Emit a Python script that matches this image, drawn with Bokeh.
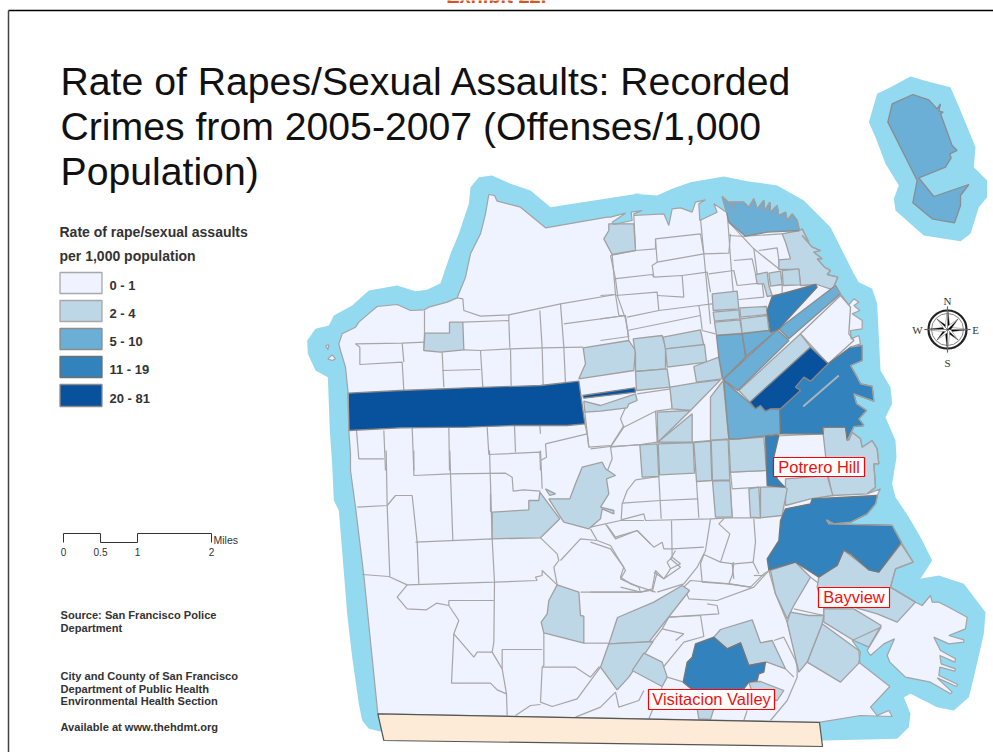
from bokeh.plotting import figure
from bokeh.models import Range1d
from bokeh.core.properties import value
from bokeh.embed import file_html
from bokeh.resources import INLINE
import math

# ---------- text ----------
CUT_HEADER = ["Exhibit 22F"]
TITLE_LINES = ["Rate of Rapes/Sexual Assaults: Recorded", "Crimes from 2005-2007 (Offenses/1,000", "Population)"]
LEGEND_TITLE = ["Rate of rape/sexual assaults", "per 1,000 population"]
CLASS_LABELS = ["0 - 1", "2 - 4", "5 - 10", "11 - 19", "20 - 81"]
CLASS_COLORS = ["#EFF3FF", "#BDD7E7", "#6BAED6", "#3182BD", "#08519C"]
CLASS_EDGES = ["#A8A8A8", "#A8A8A8", "#8C8C8C", "#707070", "#8C8C8C"]
SCALE_LABELS = ["0", "0.5", "1", "2"]
SCALE_MILES = [0, 0.5, 1, 2]
NOTES = ["Source: San Francisco Police", "Department", "City and County of San Francisco",
         "Department of Public Health", "Environmental Health Section", "Available at www.thehdmt.org"]
PLACES = ["Potrero Hill", "Bayview", "Visitacion Valley"]

# ---------- map sheets: vertices are digitised per sheet, each with its own origin, scale 1/3 ----------
S1, S2, S3, S4, S9, S11 = (300, 170), (600, 170), (300, 450), (620, 480), (860, 70), (590, 420)


def at(o, pts):
    return [(o[0] + a / 3, o[1] + b / 3) for a, b in pts]


HALO = (at(S3, [(240, 843), (205, 835), (185, 810), (175, 760), (155, 620), (140, 490), (128, 340), (115, 180), (100, 150)])
        + at(S1, [(95, 880), (88, 780), (82, 620), (45, 600), (22, 550), (20, 510), (45, 475), (85, 465), (100, 435), (155, 405),
                  (205, 360), (290, 345), (345, 362), (380, 358), (420, 338), (450, 250), (475, 190), (505, 100), (510, 50),
                  (535, 20), (575, 15), (630, 40), (690, 60), (750, 110), (1040, 65)])
        + at(S2, [(100, 70), (170, 75), (215, 55), (270, 35), (370, 18), (440, 32), (530, 45), (610, 90), (690, 170), (760, 310),
                  (775, 335), (815, 355), (830, 400), (840, 600), (870, 650), (875, 700), (855, 740), (885, 810), (888, 860),
                  (875, 940), (885, 980), (925, 1040)])
        + at(S4, [(900, 170), (935, 240), (900, 295), (955, 285), (1030, 310), (1095, 395), (1090, 460), (1060, 590), (1045, 650),
                  (1000, 690), (950, 680), (870, 640), (850, 650), (870, 700), (865, 740), (830, 775), (610, 780)]))
HALO_ISLAND = at(S9, [(25, 155), (50, 70), (90, 50), (150, 18), (210, 35), (270, 50), (300, 120), (345, 230), (340, 290), (380, 330),
                      (380, 380), (355, 410), (330, 490), (300, 512), (190, 495), (150, 460), (105, 420), (100, 385), (115, 345),
                      (75, 280), (45, 200)])

PIERS_N = [(378, 125), (365, 78), (408, 118), (385, 95), (430, 95), (445, 110), (460, 85), (470, 115), (490, 90), (493, 120),
           (508, 95), (510, 125), (530, 105), (535, 135), (555, 125), (560, 150), (575, 130), (590, 150), (597, 180)]
PIERS_NE = [(605, 175), (625, 215), (605, 195), (635, 230), (660, 240), (640, 245), (665, 265), (650, 265), (672, 290), (690, 300), (680, 312), (712, 320)]

COAST = (at(S3, [(232, 790), (190, 375), (165, 170), (150, 60)])
         + at(S1, [(150, 850), (145, 780), (143, 668), (135, 590), (120, 540), (115, 520), (125, 490), (165, 470), (175, 455),
                   (210, 425), (230, 408), (290, 402), (330, 420), (372, 418), (385, 410), (440, 395), (470, 382), (495, 320),
                   (510, 250), (540, 190), (555, 130), (565, 72), (582, 75), (590, 92), (660, 110), (735, 172), (920, 140)])
         + at(S2, [(30, 140), (75, 128), (35, 155), (40, 162), (95, 150), (92, 125), (125, 120), (100, 130), (100, 135), (190, 130),
                   (205, 165), (215, 115), (240, 112), (275, 125), (285, 95), (315, 88), (295, 100), (298, 150), (350, 125), (340, 100)])
         + at(S2, PIERS_N) + at(S2, PIERS_NE)
         + at(S2, [(700, 345), (718, 368), (745, 403), (760, 385), (775, 395),
                   (760, 405), (778, 420), (755, 430), (785, 450), (785, 475), (750, 480), (752, 505), (775, 495), (780, 520), (750, 530),
                   (785, 525), (785, 570), (750, 585), (770, 620), (780, 640), (815, 648), (820, 692), (760, 670), (768, 700), (798, 720),
                   (775, 745), (790, 765), (760, 768), (740, 810), (755, 785), (780, 805), (785, 830), (815, 810), (830, 835), (835, 880),
                   (820, 880), (825, 950), (800, 970), (840, 955), (830, 975)])
         + at(S4, [(770, 50), (765, 70), (740, 100), (690, 125), (640, 130), (618, 118), (625, 130), (815, 135), (842, 185), (878, 245),
                   (825, 265), (810, 320), (885, 365), (905, 375), (930, 345), (935, 365), (955, 365), (985, 380), (1040, 410), (1035, 445),
                   (985, 465), (1030, 478), (1030, 485), (985, 490), (940, 470), (960, 510), (1005, 535), (1003, 545), (958, 525), (962, 550),
                   (1005, 565), (1003, 572), (958, 560), (955, 585), (1012, 612), (1008, 618), (950, 592), (995, 635), (990, 640), (930, 605),
                   (855, 590), (808, 545), (800, 525), (822, 475), (790, 490), (750, 525), (740, 510), (782, 440),
                   (695, 480), (720, 515), (715, 545), (808, 618), (750, 680), (770, 705), (805, 690), (815, 708), (720, 705), (600, 725)]))
ROCKS = [at(S1, [(75, 525), (85, 523), (82, 538)]), at(S1, [(82, 565), (95, 553), (105, 565), (95, 570)])]

TRACTS_20_81 = [
    at(S1, [(143, 668), (300, 660), (500, 652), (720, 645), (835, 632), (853, 760), (800, 765), (640, 765), (500, 770), (300, 772), (145, 780)]),
    at(S1, [(847, 675), (1003, 652), (1005, 665), (850, 683)]),
    at(S2, [(630, 530), (683, 580), (630, 632), (610, 620), (585, 650), (600, 660), (540, 715), (510, 715), (495, 722), (480, 705), (465, 715), (448, 695)]),
]
TRACTS_11_19 = [
    at(S2, [(515, 378), (645, 342), (650, 350), (535, 475), (510, 485), (500, 420)]),
    at(S2, [(683, 580), (750, 530), (785, 525), (785, 570), (750, 585), (770, 620), (780, 640), (815, 648), (820, 692), (760, 670), (768, 700), (798, 720),
            (775, 745), (790, 765), (760, 768), (740, 810), (735, 770), (665, 770), (668, 790), (540, 790), (538, 718), (600, 660), (585, 650), (610, 620), (630, 632)]),
    at(S2, [(495, 798), (535, 795), (520, 860), (530, 925), (553, 950), (500, 945)]),
    at(S4, [(495, 85), (570, 70), (575, 55), (770, 45), (765, 70), (740, 100), (690, 125), (640, 130), (618, 118), (625, 130), (815, 135), (842, 185), (775, 275),
            (745, 268), (690, 220), (670, 208), (650, 255), (595, 290), (525, 245), (445, 268), (440, 235), (475, 180), (480, 120)]),
    at(S4, [(225, 490), (280, 470), (320, 505), (360, 487), (385, 555), (435, 545), (430, 575), (415, 580), (410, 600), (385, 605), (370, 625), (330, 640), (230, 640), (188, 605), (200, 545), (215, 530)]),
]
TRACTS_5_10 = [
    at(S2, PIERS_N + [(500, 185), (435, 197), (385, 155)]),
    at(S2, [(705, 345), (720, 370), (565, 505), (535, 475)]),
    at(S2, [(530, 478), (565, 510), (412, 660), (368, 627)]),
    at(S2, [(348, 495), (425, 490), (435, 560), (368, 627), (355, 560)]),
    at(S2, [(425, 490), (505, 480), (530, 478), (437, 558)]),
    at(S2, [(370, 630), (445, 695), (465, 715), (480, 705), (495, 722), (510, 715), (538, 718), (540, 790), (415, 805), (385, 805)]),
    at(S9, [(82, 155), (95, 100), (157, 72), (205, 88), (230, 115), (240, 100), (235, 122), (248, 125), (240, 130), (275, 225), (290, 240), (268, 250), (272, 262), (255, 290), (175, 322),
            (220, 378), (325, 342), (300, 375), (300, 405), (282, 457), (215, 445), (157, 397), (170, 330)]),
]
TRACTS_2_4 = [
    at(S1, [(925, 160), (1000, 160), (1005, 240), (935, 252), (910, 205), (925, 180)]),
    at(S1, [(373, 488), (447, 488), (447, 455), (487, 455), (490, 538), (420, 545), (370, 540)]),
    at(S1, [(848, 532), (985, 510), (1005, 540), (1000, 600), (835, 625), (855, 580)]),
    at(S2, [(98, 505), (185, 495), (195, 530), (195, 595), (105, 603), (105, 550)]),
    at(S2, [(188, 500), (300, 478), (310, 525), (195, 535)]),
    at(S2, [(195, 535), (312, 522), (318, 575), (200, 590)]),
    at(S2, [(105, 603), (200, 595), (208, 650), (108, 660)]),
    at(S2, [(280, 588), (355, 560), (365, 625), (288, 635)]),
    at(S2, [(208, 650), (285, 637), (360, 628), (270, 720), (215, 715)]),
    at(S2, [(170, 725), (270, 720), (172, 815)]),
    at(S2, [(172, 815), (275, 730), (275, 815)]),
    at(S2, [(330, 680), (368, 630), (385, 805), (330, 810)]),
    at(S2, [(0, 705), (105, 670), (110, 690), (85, 700), (80, 712), (0, 722), (-47, 725), (-50, 692)]),
    at(S2, [(335, 370), (410, 362), (415, 415), (338, 420)]),
    at(S2, [(338, 425), (415, 418), (418, 445), (342, 452)]),
    at(S2, [(342, 455), (418, 448), (425, 488), (348, 495)]),
    at(S2, [(418, 412), (498, 408), (500, 432), (420, 440)]),
    at(S2, [(420, 445), (500, 435), (505, 480), (425, 488)]),
    at(S2, [(545, 190), (597, 180)] + PIERS_NE + [(697, 358), (650, 342), (600, 345), (595, 297), (535, 297), (535, 268), (570, 265), (555, 215)]),
    at(S2, [(465, 312), (500, 305), (505, 345), (515, 375), (500, 378), (490, 340), (470, 340)]),
    at(S2, [(505, 308), (540, 302), (545, 342), (510, 347)]),
    at(S2, [(545, 300), (595, 295), (600, 343), (548, 345)]),
    at(S2, [(600, 490), (630, 530), (448, 695), (415, 660)]),
    at(S2, [(670, 770), (735, 770), (745, 810), (755, 785), (780, 805), (785, 830), (815, 810), (830, 835), (835, 880), (820, 880), (825, 950), (800, 970), (695, 975), (680, 900), (668, 790)]),
    at(S2, [(555, 925), (680, 915), (697, 975), (630, 985), (555, 1005)]),
    at(S11, [(148, 73), (200, 70), (205, 168), (155, 170)]),
    at(S11, [(203, 70), (308, 66), (312, 158), (207, 163)]),
    at(S11, [(310, 66), (360, 62), (364, 180), (318, 183)]),
    at(S11, [(362, 60), (413, 57), (418, 178), (366, 180)]),
    at(S11, [(415, 57), (520, 50), (528, 150), (420, 155)]),
    at(S11, [(366, 182), (418, 180), (425, 290), (375, 290)]),
    at(S11, [(475, 205), (505, 200), (510, 292), (480, 290)]),
    at(S11, [(510, 200), (580, 198), (590, 205), (575, 285), (510, 292)]),
    at(S4, [(450, 270), (525, 245), (570, 290), (520, 375), (500, 415), (465, 340)]),
    at(S4, [(595, 290), (625, 250), (650, 255), (670, 210), (690, 225), (745, 268), (775, 275), (842, 190), (878, 245), (825, 265), (810, 320), (885, 365), (830, 425), (770, 400), (700, 380), (610, 385), (590, 320)]),
    at(S4, [(610, 385), (700, 385), (782, 435), (745, 500), (700, 480), (610, 425)]),
    at(S4, [(605, 430), (715, 510), (718, 545), (660, 605), (560, 545)]),
    at(S4, [(510, 395), (565, 405), (610, 405), (605, 430), (560, 545), (535, 575), (500, 425)]),
    at(S4, [(-35, 490), (-9, 411), (100, 365), (185, 315), (207, 330), (85, 485)]),
    at(S3, [(900, 650), (925, 580), (1058, 573), (985, 680), (950, 718)]),
    at(S4, [(70, 518), (125, 545), (140, 590), (125, 618), (35, 570)]),
    at(S4, [(300, 447), (395, 418), (420, 487), (455, 480), (495, 565), (440, 545), (385, 555), (360, 487), (320, 505), (280, 470)]),
    at(S4, [(385, 605), (420, 603), (490, 630), (470, 660), (400, 650)]),
    at(S4, [(230, 685), (280, 685), (270, 717), (235, 715)]),
    at(S3, [(722, 515), (740, 490), (745, 450), (770, 403), (835, 425), (840, 495), (850, 497), (850, 578), (730, 547)]),
    at(S3, [(575, 185), (685, 178), (685, 150), (715, 150), (718, 125), (778, 205), (720, 262), (575, 265)]),
    at(S3, [(745, 145), (808, 145), (825, 100), (845, 50), (905, 35), (915, 55), (945, 75), (918, 85), (925, 130), (900, 170), (940, 180), (940, 190), (905, 175), (900, 205), (865, 235), (790, 215), (780, 200)]),
    at(S3, [(735, 115), (765, 130), (748, 135)]),
]
TRACTS_0_1 = [
    at(S2, [(600, 490), (720, 375), (750, 410), (745, 490), (760, 510), (683, 580)]),
]
PIER_48 = at(S2, [(608, 708), (715, 615)])

LINES_S1 = [
    [(372, 420), (372, 485), (370, 540)],
    [(470, 382), (487, 385), (490, 420), (540, 437), (625, 433), (780, 400), (945, 372)],
    [(935, 252), (945, 372), (955, 435), (975, 435), (985, 510)],
    [(487, 455), (625, 450), (628, 532)], [(490, 538), (540, 540), (630, 535), (725, 532), (848, 530)],
    [(625, 433), (625, 450)], [(718, 420), (725, 532), (728, 645)], [(780, 400), (790, 530), (795, 640)],
    [(790, 460), (975, 435)], [(165, 520), (305, 518), (372, 515)], [(165, 520), (178, 530), (178, 582), (305, 575), (310, 660)],
    [(305, 518), (310, 575)], [(425, 545), (430, 650)], [(425, 600), (540, 597)], [(540, 540), (547, 650)], [(630, 535), (632, 650)],
    [(168, 780), (175, 865), (250, 865)], [(250, 780), (255, 900)], [(335, 772), (340, 900)], [(445, 770), (447, 900)],
    [(560, 770), (565, 852), (718, 845), (720, 900)], [(642, 765), (645, 845)], [(718, 765), (720, 790)],
    [(735, 820), (860, 790), (853, 760)], [(735, 820), (738, 860), (720, 870)], [(860, 790), (865, 830), (930, 825)],
    [(853, 725), (865, 830)],
]
LINES_S2 = [
    [(100, 135), (105, 240)], [(30, 255), (105, 240), (165, 235), (165, 205), (300, 190), (310, 250), (320, 355), (330, 460)],
    [(165, 205), (170, 275), (155, 285), (160, 320), (245, 315), (250, 380), (170, 375)],
    [(300, 145), (310, 250)], [(170, 275), (310, 250), (385, 248), (390, 190)],
    [(380, 125), (395, 330), (405, 430)], [(40, 325), (155, 312), (160, 320)],
    [(45, 375), (170, 365), (175, 420), (80, 440)], [(30, 255), (45, 325), (52, 380), (75, 445), (85, 500)],
    [(0, 375), (45, 372)], [(0, 445), (75, 435)], [(0, 510), (85, 498)], [(80, 480), (300, 435), (305, 478)],
    [(245, 315), (320, 305), (330, 365)], [(325, 310), (400, 300), (410, 345)],
    [(385, 195), (435, 198)], [(385, 155), (460, 235), (470, 310)], [(400, 270), (455, 265), (465, 310)],
    [(410, 345), (485, 337), (490, 380), (415, 387)], [(295, 405), (335, 400)], [(305, 480), (345, 490)], [(175, 420), (295, 405), (300, 435)],
    [(510, 345), (545, 342), (545, 370), (515, 375)], [(475, 240), (530, 232), (535, 268)], [(460, 235), (535, 295)],
    [(435, 197), (545, 190)], [(110, 670), (210, 655), (215, 715), (165, 722), (170, 815), (275, 815), (385, 805), (490, 798), (670, 790)],
    [(30, 830), (120, 822), (170, 815)], [(30, 830), (70, 770), (60, 745), (80, 700)], [(70, 770), (165, 722)],
    [(390, 905), (495, 900)], [(390, 905), (390, 820)],
]
LINES_S11 = [
    [(0, 85), (60, 78), (148, 73)], [(60, 78), (65, 115), (45, 165)], [(100, 15), (60, 78)],
    [(135, 178), (205, 168), (212, 295)], [(318, 183), (325, 292)], [(135, 178), (110, 210), (95, 250), (92, 298)],
    [(95, 248), (210, 240), (320, 235)], [(92, 298), (160, 280), (165, 300), (360, 295), (420, 292), (510, 292)],
    [(420, 205), (425, 290)], [(420, 155), (425, 205), (510, 200)], [(0, 320), (90, 300), (160, 300)],
    [(45, 310), (75, 355), (140, 330), (190, 380), (215, 365), (220, 385), (245, 385), (340, 380)],
    [(243, 300), (245, 410), (270, 430), (240, 445), (230, 425), (245, 410)],
    [(360, 295), (345, 390), (320, 440), (280, 490), (200, 515)],
    [(0, 365), (60, 385), (100, 440), (90, 470), (120, 490), (195, 515)], [(190, 455), (220, 475), (240, 445)], [(185, 515), (200, 455)],
    [(0, 515), (150, 515)], [(400, 295), (385, 310), (418, 340), (390, 425), (340, 402), (330, 430), (335, 485), (410, 490), (480, 500), (520, 460), (575, 430)],
    [(490, 295), (495, 365), (488, 425), (505, 460)], [(390, 425), (430, 430), (490, 425)], [(430, 430), (425, 465), (415, 490)],
]
LINES_S4 = [
    [(0, 320), (60, 335), (95, 325), (105, 270), (130, 295), (180, 260), (150, 235), (165, 210)],
    [(445, 270), (400, 320), (290, 360), (205, 355), (190, 320), (210, 300), (330, 310), (390, 320)],
    [(260, 370), (290, 375), (295, 400), (145, 410), (125, 445), (70, 518)],
    [(145, 410), (240, 405), (250, 468), (190, 485), (120, 570)], [(125, 445), (190, 460), (165, 480)],
    [(445, 270), (465, 340), (500, 425), (530, 540), (530, 590), (500, 660), (450, 720)],
    [(460, 480), (490, 470), (525, 540), (535, 575)], [(495, 565), (520, 590)],
    [(140, 590), (190, 605)], [(125, 620), (85, 715)], [(230, 640), (235, 685)], [(380, 690), (370, 720)],
    [(340, 245), (335, 250), (340, 295)], [(400, 285), (430, 285)],
    [(570, 290), (610, 320), (610, 405), (520, 385)],
]
LINES_S3 = [
    [(170, 170), (260, 165), (285, 135), (335, 135), (350, 275), (355, 400)], [(260, 165), (268, 378)],
    [(340, 75), (450, 70), (615, 68), (635, 80), (638, 122), (670, 118), (720, 122)], [(450, 70), (457, 270)],
    [(345, 275), (575, 265), (582, 395), (580, 575), (575, 605), (605, 655), (618, 730), (620, 795)],
    [(567, 0), (575, 265)], [(720, 0), (725, 115)], [(570, 130), (570, 185)], [(340, 0), (340, 75)], [(448, 0), (450, 70)], [(257, 0), (260, 165)],
    [(185, 372), (265, 378), (320, 403), (580, 395), (710, 390), (705, 380), (725, 375), (725, 360), (770, 403)],
    [(320, 403), (290, 440), (320, 475), (378, 478), (408, 458), (445, 465), (475, 510), (460, 550), (520, 620), (530, 605), (575, 605)],
    [(445, 450), (580, 450)], [(445, 465), (445, 450)], [(460, 550), (453, 698), (570, 698), (590, 718), (618, 730)],
    [(605, 655), (605, 597), (725, 597)], [(730, 547), (730, 645), (725, 650), (720, 755), (755, 768), (830, 745), (900, 650)],
    [(725, 650), (825, 650), (870, 680), (897, 648)], [(850, 578), (925, 578)], [(645, 795), (690, 765), (720, 762)],
    [(825, 800), (900, 770), (945, 725), (955, 770), (1015, 750), (1030, 720)],
    [(720, 262), (770, 310), (775, 330), (760, 350), (770, 403)], [(780, 330), (840, 265), (890, 270), (870, 235)],
    [(840, 425), (1020, 425), (1015, 410), (960, 385), (975, 360), (930, 285), (890, 270)], [(920, 225), (945, 260), (1010, 240), (1050, 280)],
    [(1020, 425), (1050, 420)],
]
STRIP = at(S3, [(232, 790), (1557, 816), (1566, 888), (250, 870)])

# ---------- figure: data space equals reference page pixels ----------
p = figure(width=993, height=752, output_backend="svg", toolbar_location=None,
           x_range=Range1d(0, 993), y_range=Range1d(752, 0), min_border=0)
p.axis.visible = False
p.xgrid.visible = False
p.ygrid.visible = False
p.outline_line_color = None
SANS = value("Liberation Sans")
SERIF = value("Liberation Serif")
WATER, LAND, LINE = "#93D9F0", "#EFF3FF", "#A6A6A6"


def polys(rings, fill, line=None, width=1.3):
    p.patches([[a for a, _ in r] for r in rings], [[b for _, b in r] for r in rings],
              fill_color=fill, line_color=line if line else fill, line_width=width, line_alpha=1 if line else 0)


def lines(paths, color=LINE, width=1.2):
    p.multi_line([[a for a, _ in r] for r in paths], [[b for _, b in r] for r in paths],
                 line_color=color, line_width=width)


def label(xs, ys, texts, size, color="#333333", style="normal", align="left", font=SANS):
    # ys are text baselines; the glyph is anchored on its vertical middle
    p.text(xs, [y - 0.36 * size for y in ys], text=texts, text_font=font, text_font_size=f"{size}px", text_font_style=style,
           text_color=color, text_align=align, text_baseline="middle")


polys([HALO, HALO_ISLAND], WATER)
polys([COAST] + ROCKS, LAND)
lines([at(S1, r) for r in LINES_S1] + [at(S2, r) for r in LINES_S2] + [at(S11, r) for r in LINES_S11]
      + [at(S4, r) for r in LINES_S4] + [at(S3, r) for r in LINES_S3])
polys(TRACTS_0_1, CLASS_COLORS[0], "#A0A0A0")
polys(TRACTS_2_4, CLASS_COLORS[1], "#A0A0A0")
polys(TRACTS_5_10, CLASS_COLORS[2], "#8C8C8C")
polys(TRACTS_11_19, CLASS_COLORS[3], "#777777")
polys(TRACTS_20_81, CLASS_COLORS[4], "#888888")
lines([PIER_48], "#A9B4BC", 2)
lines([COAST + COAST[:1]] + [r + r[:1] for r in ROCKS], "#A3A3A3", 1.2)
polys([STRIP], "#FDEBD7", "#555555", 1.2)

# frame
p.line([8, 993], [10, 10], line_color="black", line_width=1.5)
p.line([8, 8], [10, 752], line_color="#444444", line_width=1.5)

# header, cut by the top of the page
label([499], [3], CUT_HEADER, 20, "#D9541E", style="bold", align="center")

# title
label([60, 60, 60], [95, 140, 185], TITLE_LINES, 39.2, "#111111")

# legend
label([59, 59], [237, 261], LEGEND_TITLE, 14, style="bold")
LEG_TOP = [272, 300, 328, 356, 384]
LEG_BOT = [293, 321, 349, 377, 406]
p.quad(left=[59.5] * 5, right=[101.5] * 5, top=LEG_TOP, bottom=LEG_BOT, fill_color=CLASS_COLORS,
       line_color=CLASS_EDGES, line_width=1.3)
label([109] * 5, [290, 318, 346, 374, 403], CLASS_LABELS, 13, style="bold")

# scale bar: 2 miles over 148 px
X0, PX_PER_MILE = 63, 74
sx = [X0 + m * PX_PER_MILE for m in SCALE_MILES]
p.line([sx[0], sx[0], sx[1], sx[1], sx[2], sx[2], sx[3], sx[3]], [542, 533, 533, 542, 542, 533, 533, 542],
       line_color="#333333", line_width=1)
label(sx, [555] * 4, SCALE_LABELS, 10, align="center")
label([213], [543], ["Miles"], 10.5)

# notes
label([60] * 6, [618, 631, 679, 692, 704, 730], NOTES, 11.1, style="bold")

# compass
CX, CY = 947, 329
for radius, w, col in [(19, 2.2, "#222222"), (16, 1.0, "#888888")]:
    p.circle([CX], [CY], radius=radius, fill_color=None, line_color=col, line_width=w)
for k in range(8):
    ang = k * math.pi / 4
    long_pt = 23 if k % 2 == 0 else 15
    tipx, tipy = CX + long_pt * math.cos(ang), CY + long_pt * math.sin(ang)
    for side, col in [(1, "black"), (-1, "white")]:
        wx, wy = CX + 3.2 * math.cos(ang + side * math.pi / 4), CY + 3.2 * math.sin(ang + side * math.pi / 4)
        p.patch([CX, wx, tipx], [CY, wy, tipy], fill_color=col, line_color="#444444", line_width=0.4)
label([947, 917, 975, 947], [304, 333, 333, 366], ["N", "W", "E", "S"], 11, align="center", font=SERIF)

# place labels
PLACE_L, PLACE_R = [773, 818, 648], [864, 889, 774]
PLACE_T, PLACE_B = [457, 587, 689], [476, 607, 709]
p.quad(left=PLACE_L, right=PLACE_R, top=PLACE_T, bottom=PLACE_B, fill_color="white", line_color="#FF0000", line_width=1.2)
label([(a + b) / 2 for a, b in zip(PLACE_L, PLACE_R)], [472, 602, 704], PLACES, 16.5, "#F01010", align="center")

open("out.html", "w").write(file_html(p, INLINE))
